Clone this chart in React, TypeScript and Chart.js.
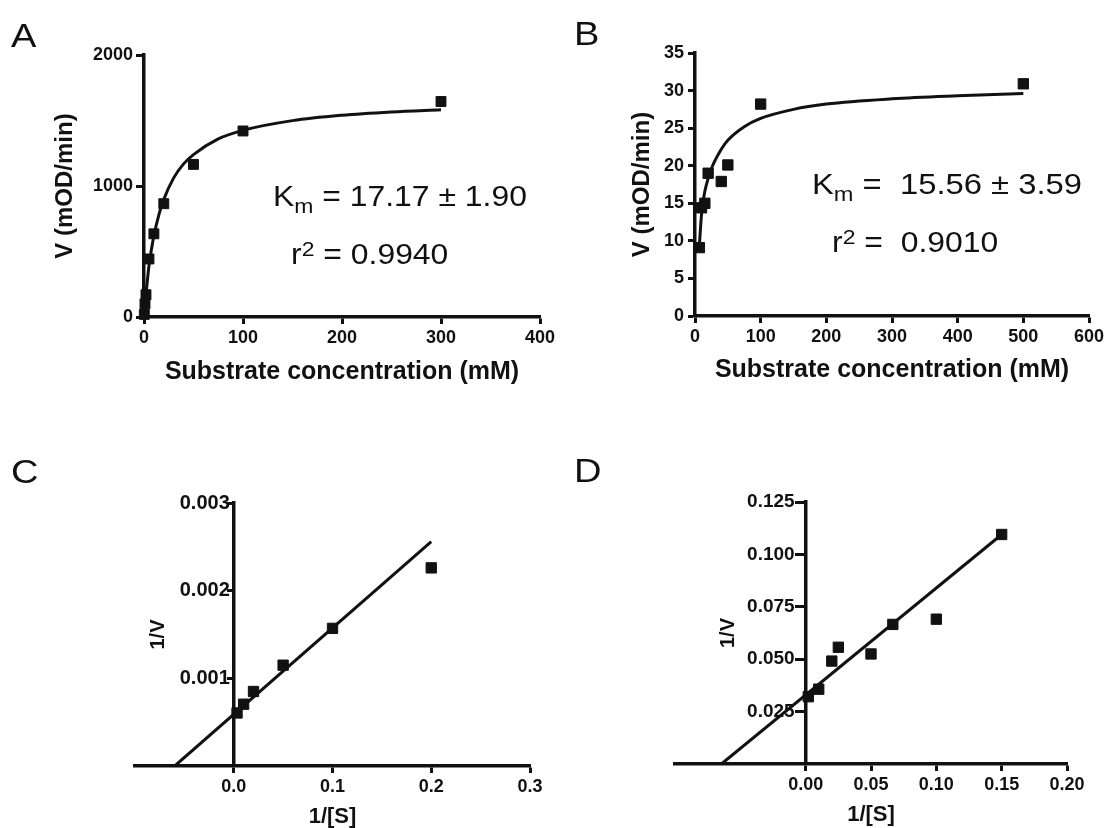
import React, { useEffect, useRef } from 'react';
import { Chart, registerables, LinearScale } from 'chart.js';

// ---------------- data ----------------
// Panel A : Michaelis-Menten plot
const aSubstrate = [0.3, 1, 2, 5, 10, 20, 50, 100, 300];
const aVelocity = [20, 100, 170, 443, 635, 865, 1165, 1420, 1645];
const aFitS = [0, 1, 2, 3, 5, 7.5, 10, 15, 20, 30, 40, 50, 75, 100, 150, 200, 250, 300];
const aFitV = [0, 92, 175, 248, 390, 515, 620, 780, 898, 1062, 1169, 1240, 1360, 1425, 1499, 1540, 1565, 1582];
const aXTicks = [0, 100, 200, 300, 400];
const aYTicks = [0, 1000, 2000];

// Panel B : Michaelis-Menten plot
const bSubstrate = [6.67, 10, 15, 20, 40, 50, 100, 500];
const bVelocity = [9.1, 14.4, 15.0, 19.0, 17.9, 20.1, 28.2, 30.9];
const bFitS = [6.67, 8, 10, 12, 15, 20, 25, 30, 40, 50, 75, 100, 150, 200, 300, 400, 500];
const bFitV = [9.4, 11.2, 13.6, 15.0, 16.6, 18.3, 19.6, 20.6, 22.2, 23.4, 25.2, 26.3, 27.5, 28.2, 28.9, 29.3, 29.6];
const bXTicks = [0, 100, 200, 300, 400, 500, 600];
const bYTicks = [0, 5, 10, 15, 20, 25, 30, 35];

// Panel C : Lineweaver-Burk plot
const cInvS = [0.00333, 0.01, 0.02, 0.05, 0.1, 0.2];
const cInvV = [0.000605, 0.000705, 0.00085, 0.00115, 0.00157, 0.00226];
const cLineX = [-0.0598, 0.2];
const cLineY = [0, 0.00256];
const cXTicks = [0, 0.1, 0.2, 0.3];
const cYTicks = [0.001, 0.002, 0.003];

// Panel D : Lineweaver-Burk plot
const dInvS = [0.002, 0.01, 0.02, 0.025, 0.05, 0.0667, 0.1, 0.15];
const dInvV = [0.0321, 0.0357, 0.0491, 0.0557, 0.0525, 0.0666, 0.0691, 0.1095];
const dLineX = [-0.0645, 0.15];
const dLineY = [0, 0.1095];
const dXTicks = [0, 0.05, 0.1, 0.15, 0.2];
const dYTicks = [0.025, 0.05, 0.075, 0.1, 0.125];

// ---------------- styling ----------------
const FONT = '"Liberation Sans", Arial, Helvetica, sans-serif';
const INK = '#111111';

// Linear scale whose tick labels sit at a fixed gap from an axis placed at a data value
class AxisLinear extends LinearScale {
  static id = 'axisLinear';
  static defaults = LinearScale.defaults;
  _computeLabelItems(chartArea: any) {
    const items = (super._computeLabelItems as any)(chartArea);
    const opts: any = this.options;
    const gap = opts.labelGap;
    const pos = opts.position;
    if (typeof gap === 'number' && pos && typeof pos === 'object') {
      const key = Object.keys(pos)[0];
      const px = (this.chart.scales as any)[key].getPixelForValue(pos[key]);
      items.forEach((it: any) => {
        it.options.translation[0] = px - gap;
        it.options.textAlign = 'right';
      });
    }
    return items;
  }
}

Chart.register(...registerables, AxisLinear);

const pts = (xs: number[], ys: number[]) => xs.map((x, i) => ({ x, y: ys[i] }));
const fixTicks = (values: number[]) => (scale: any) => {
  scale.ticks = values.map((v) => ({ value: v }));
};

function axis(o: any) {
  return {
    type: o.type || 'linear',
    position: o.position,
    min: o.min,
    max: o.max,
    afterBuildTicks: fixTicks(o.ticks),
    afterFit:
      o.size != null
        ? (s: any) => {
            if (s.isHorizontal()) s.height = o.size;
            else s.width = o.size;
          }
        : undefined,
    grid: {
      display: true,
      drawOnChartArea: false,
      drawTicks: true,
      tickLength: o.tickLength,
      tickWidth: 3,
      tickColor: INK,
    },
    border: { display: true, color: INK, width: 3.5 },
    ticks: {
      color: INK,
      font: { family: FONT, size: o.fontSize || 18, weight: 'bold' },
      padding: o.padding,
      autoSkip: false,
      maxRotation: 0,
      minRotation: 0,
      callback: (v: any) => (o.digits == null ? String(v) : Number(v).toFixed(o.digits)),
    },
    title: o.title
      ? {
          display: true,
          text: o.title,
          color: INK,
          font: { family: FONT, size: o.titleSize, weight: 'bold' },
          padding: 0,
        }
      : { display: false },
    labelGap: o.labelGap,
  };
}

const pointSet = (data: any[], radius: number) => ({
  data,
  showLine: false,
  pointStyle: 'rect',
  pointRadius: radius,
  pointHoverRadius: radius,
  pointBackgroundColor: INK,
  pointBorderColor: INK,
  pointBorderWidth: 1,
  clip: false,
  order: 0,
});

const lineSet = (data: any[], smooth: boolean) => ({
  data,
  showLine: true,
  pointRadius: 0,
  pointHoverRadius: 0,
  borderColor: INK,
  backgroundColor: INK,
  borderWidth: 3,
  fill: false,
  tension: 0,
  cubicInterpolationMode: smooth ? 'monotone' : 'default',
  order: 1,
});

const verticalTitle = (text: string, offset: number, size: number) => ({
  id: 'verticalTitle',
  afterDraw(chart: any) {
    const { ctx, chartArea, scales } = chart;
    const x = scales.x.getPixelForValue(0) - offset;
    const y = (chartArea.top + chartArea.bottom) / 2;
    ctx.save();
    ctx.translate(x, y);
    ctx.rotate(-Math.PI / 2);
    ctx.font = `bold ${size}px ${FONT}`;
    ctx.fillStyle = INK;
    ctx.textAlign = 'center';
    ctx.textBaseline = 'middle';
    ctx.fillText(text, 0, 0);
    ctx.restore();
  },
});

const baseOptions = (padding: any, scales: any) => ({
  responsive: false,
  animation: false,
  devicePixelRatio: 1,
  events: [],
  layout: { padding },
  plugins: { legend: { display: false }, tooltip: { enabled: false } },
  scales,
});

function configA() {
  return {
    type: 'scatter',
    data: { datasets: [pointSet(pts(aSubstrate, aVelocity), 7), lineSet(pts(aFitS, aFitV), true)] },
    options: baseOptions(
      { left: 51, top: 55, right: 20, bottom: 33 },
      {
        x: axis({ position: 'bottom', min: 0, max: 400, ticks: aXTicks, size: 70, tickLength: 7, padding: 3, title: 'Substrate concentration (mM)', titleSize: 25 }),
        y: axis({ position: 'left', min: 0, max: 2000, ticks: aYTicks, size: 93, tickLength: 8, padding: 3, title: 'V (mOD/min)', titleSize: 24 }),
      }
    ),
  };
}

function configB() {
  return {
    type: 'scatter',
    data: { datasets: [pointSet(pts(bSubstrate, bVelocity), 7.3), lineSet(pts(bFitS, bFitV), true)] },
    options: baseOptions(
      { left: 68, top: 53, right: 19, bottom: 35 },
      {
        x: axis({ position: 'bottom', min: 0, max: 600, ticks: bXTicks, size: 69, tickLength: 7, padding: 3, title: 'Substrate concentration (mM)', titleSize: 25 }),
        y: axis({ position: 'left', min: 0, max: 35, ticks: bYTicks, size: 67, tickLength: 7, padding: 4, title: 'V (mOD/min)', titleSize: 24 }),
      }
    ),
  };
}

function configC() {
  return {
    type: 'scatter',
    data: { datasets: [pointSet(pts(cInvS, cInvV), 7.3), lineSet(pts(cLineX, cLineY), false)] },
    options: baseOptions(
      { left: 135, top: 83, right: 30, bottom: 10 },
      {
        x: axis({ position: 'bottom', min: -0.1, max: 0.3, ticks: cXTicks, digits: 1, size: 64, tickLength: 7, padding: 3, title: '1/[S]', titleSize: 22 }),
        y: axis({ type: 'axisLinear', position: { x: 0 }, min: 0, max: 0.003, ticks: cYTicks, digits: 3, tickLength: 5, padding: 2, labelGap: 4, fontSize: 20 }),
      }
    ),
    plugins: [verticalTitle('1/V', 75, 20)],
  };
}

function configD() {
  return {
    type: 'scatter',
    data: { datasets: [pointSet(pts(dInvS, dInvV), 7.3), lineSet(pts(dLineX, dLineY), false)] },
    options: baseOptions(
      { left: 115, top: 82, right: 41, bottom: 12 },
      {
        x: axis({ position: 'bottom', min: -0.1, max: 0.2, ticks: dXTicks, digits: 2, size: 64, tickLength: 7, padding: 3, title: '1/[S]', titleSize: 22 }),
        y: axis({ type: 'axisLinear', position: { x: 0 }, min: 0, max: 0.125, ticks: dYTicks, digits: 3, tickLength: 9, padding: 2, labelGap: 11, fontSize: 19 }),
      }
    ),
    plugins: [verticalTitle('1/V', 77, 20)],
  };
}

function Panel({ left, top, width, height, build }: any) {
  const ref = useRef<HTMLCanvasElement>(null);
  useEffect(() => {
    const chart = new Chart(ref.current as HTMLCanvasElement, build() as any);
    return () => chart.destroy();
  }, []);
  return (
    <canvas
      ref={ref}
      width={width}
      height={height}
      style={{ position: 'absolute', left, top, width, height, display: 'block' }}
    />
  );
}

function Note({ left, baseline, size, stretch, children }: any) {
  const top = baseline - 0.8465 * size;
  return (
    <div
      style={{
        position: 'absolute',
        left,
        top,
        fontFamily: FONT,
        fontSize: size,
        lineHeight: `${size}px`,
        whiteSpace: 'pre',
        color: INK,
        transform: `scaleX(${stretch})`,
        transformOrigin: '0 0',
      }}
    >
      {children}
    </div>
  );
}

const sub = { fontSize: '0.72em', position: 'relative' as const, top: '0.3em', lineHeight: 0 };
const sup = { fontSize: '0.72em', position: 'relative' as const, top: '-0.4em', lineHeight: 0 };

export default function App() {
  return (
    <div
      style={{
        position: 'absolute',
        left: 0,
        top: 0,
        width: 1108,
        height: 828,
        overflow: 'hidden',
        background: '#ffffff',
      }}
    >
      <Panel left={0} top={0} width={560} height={420} build={configA} />
      <Panel left={560} top={0} width={548} height={420} build={configB} />
      <Panel left={0} top={420} width={560} height={420} build={configC} />
      <Panel left={560} top={420} width={548} height={420} build={configD} />

      <Note left={10.5} baseline={47} size={34} stretch={1.12}>A</Note>
      <Note left={574} baseline={45} size={34} stretch={1.12}>B</Note>
      <Note left={10.5} baseline={483} size={34} stretch={1.12}>C</Note>
      <Note left={574} baseline={482} size={34} stretch={1.12}>D</Note>

      <Note left={273} baseline={207} size={29} stretch={1.1}>
        K<span style={sub}>m</span>{' = 17.17 ± 1.90'}
      </Note>
      <Note left={291} baseline={265} size={29} stretch={1.1}>
        r<span style={sup}>2</span>{' = 0.9940'}
      </Note>
      <Note left={812} baseline={195} size={29} stretch={1.13}>
        K<span style={sub}>m</span>{' =  15.56 ± 3.59'}
      </Note>
      <Note left={832} baseline={253} size={29} stretch={1.1}>
        r<span style={sup}>2</span>{' =  0.9010'}
      </Note>
    </div>
  );
}
